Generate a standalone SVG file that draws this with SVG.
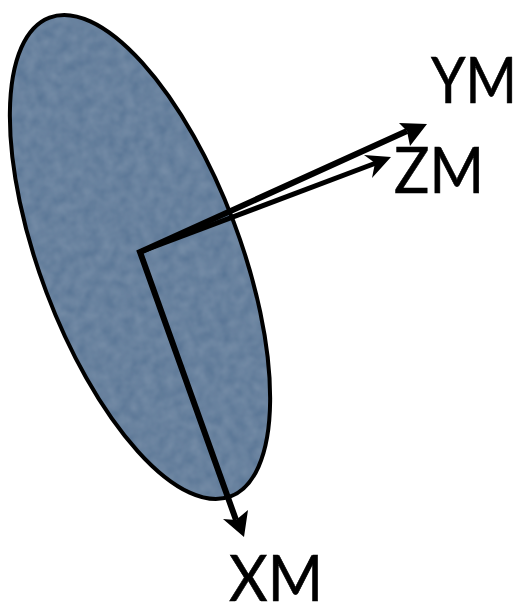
<svg xmlns="http://www.w3.org/2000/svg" width="518" height="603" viewBox="0 0 518 603">
<style>
.ax{fill:none;stroke:#000;stroke-linejoin:miter}
.hd{fill:#000}
.lb{font-family:"Lato","Liberation Sans",sans-serif;font-size:63px;fill:#000;stroke:#000;stroke-width:.6}
</style>
<defs>
<filter id="n" x="0" y="0" width="100%" height="100%"><feTurbulence type="fractalNoise" baseFrequency="0.1" numOctaves="3" seed="4"/><feColorMatrix values="0 0 0 0 0.45 0 0 0 0 0.56 0 0 0 0 0.68 0.3 0 0 0 -0.03"/><feComposite in2="SourceAlpha" operator="in"/><feGaussianBlur stdDeviation="1"/><feMerge><feMergeNode in="SourceGraphic"/><feMergeNode/></feMerge></filter>
</defs>
<rect width="518" height="603" fill="#fff"/>
<g id="disc">
<ellipse cx="140" cy="257" rx="100" ry="256" transform="rotate(-20.7 140 257)" fill="#587494" filter="url(#n)"/>
<ellipse cx="140" cy="257" rx="100" ry="256" transform="rotate(-20.7 140 257)" fill="none" stroke="#000" stroke-width="4"/>
</g>
<g id="connectors">
<path class="ax" stroke-width="6" d="M236 520L140 252L407 131"/>
<path class="hd" d="M244 537L223 519L236 520L248 510Z"/>
<path class="hd" d="M427 124L399 123L407 131L410 146Z"/>
<path class="ax" stroke-width="5" d="M140 252L376 163"/>
<path class="hd" d="M391 157L364 155L375 163L372 178Z"/>
</g>
<g id="labels">
<text id="YM" class="lb" x="431" y="103" textLength="86" lengthAdjust="spacingAndGlyphs">YM</text>
<text id="ZM" class="lb" x="394" y="193" textLength="90" lengthAdjust="spacingAndGlyphs">ZM</text>
<text id="XM" class="lb" x="229" y="601" textLength="94" lengthAdjust="spacingAndGlyphs">XM</text>
</g>
</svg>
